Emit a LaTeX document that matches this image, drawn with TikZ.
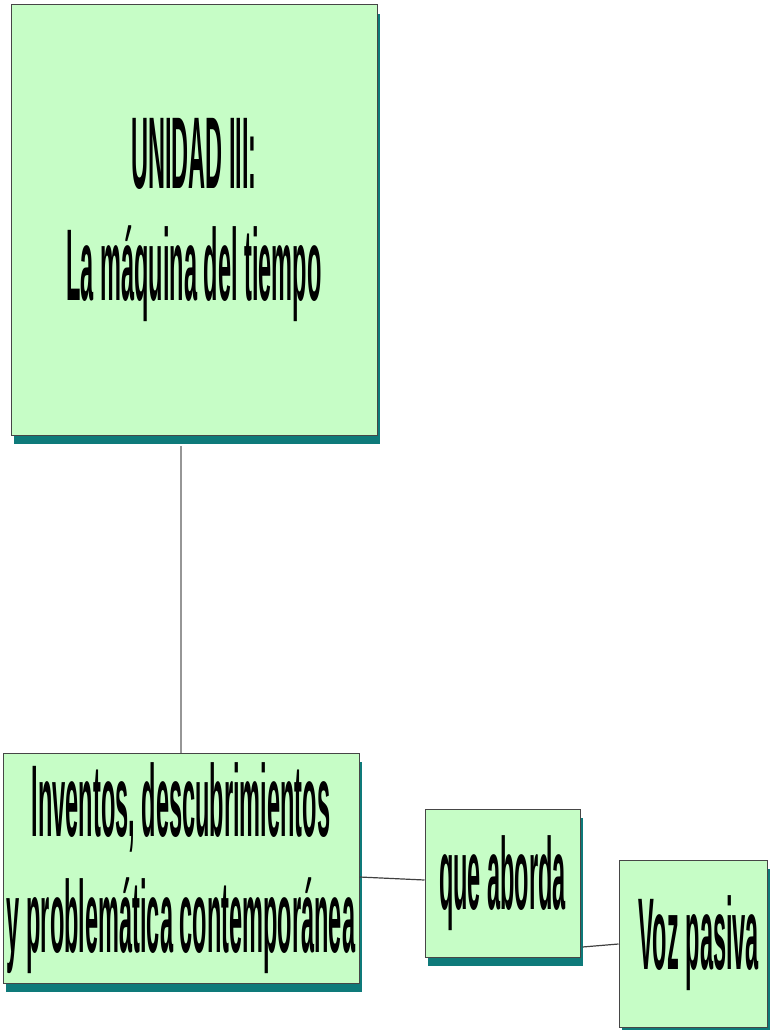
\documentclass[tikz,border=0pt]{standalone}
\usepackage{fontspec}
\usetikzlibrary{shadows}
\newfontfamily\condfont{Liberation Sans}[FakeStretch=0.231]
\definecolor{boxfill}{RGB}{198,253,198}
\definecolor{shadowteal}{RGB}{14,122,122}
\definecolor{edgegray}{RGB}{70,70,70}
\definecolor{linkgray}{RGB}{150,150,150}
\tikzset{
  mapbox/.style={draw=edgegray, line width=1pt, fill=boxfill, rectangle, inner sep=0pt, align=center,
    font=\condfont\bfseries\fontsize{102}{112}\selectfont,
    general shadow={fill=shadowteal, shadow xshift=3pt, shadow yshift=-9pt}},
  link/.style={draw=black!75, line width=1.2pt},
  vlink/.style={draw=linkgray, line width=1.2pt}
}
\begin{document}
\begin{tikzpicture}[x=1pt,y=-1pt]
\useasboundingbox (0,0) rectangle (770,1030);
\clip (0,0) rectangle (770,1030);
\node[mapbox, minimum width=366pt, minimum height=430pt] (unit) at (194,220) {UNIDAD III:\\La máquina del tiempo};
\node[mapbox, minimum width=356pt, minimum height=230pt, font=\condfont\bfseries\fontsize{102}{116}\selectfont] (inv) at (181,868) {Inventos, descubrimientos\\y problemática contemporánea};
\node[mapbox, minimum width=155pt, minimum height=148pt] (que) at (502.5,883) {que aborda};
\node[mapbox, minimum width=148pt, minimum height=167pt] (voz) at (693,943.5) {\hspace*{12pt}Voz pasiva};
\draw[vlink] (inv.north) -- ([yshift=-10pt]inv.north |- unit.south);
\draw[link] (inv.east |- 0,877) -- (que.west |- 0,880);
\draw[link] ([xshift=2pt]que.east |- 0,947) -- (voz.west |- 0,944);
\end{tikzpicture}
\end{document}
